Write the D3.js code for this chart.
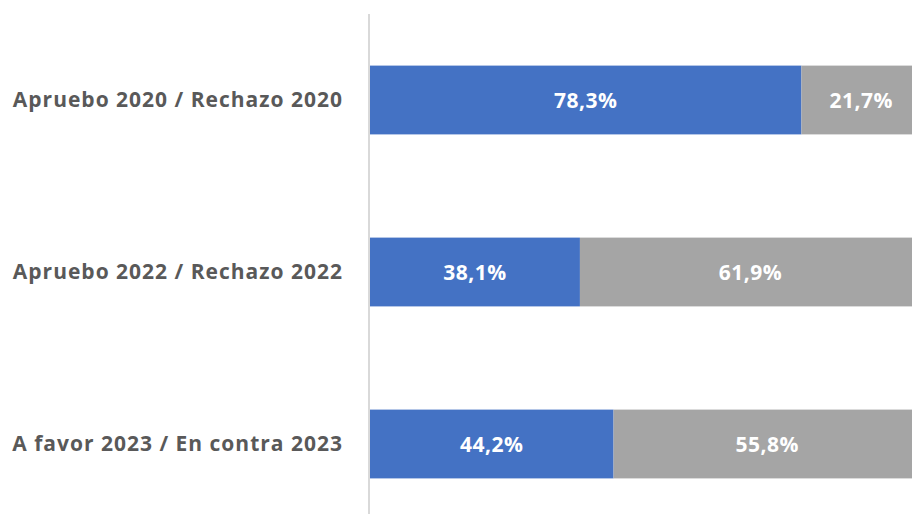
<!DOCTYPE html>
<html>
<head>
<meta charset="utf-8">
<script src="https://cdn.jsdelivr.net/npm/d3@7"></script>
<style>
  body { margin: 0; background: #fff; overflow: hidden; }
</style>
</head>
<body>
<div class="chart"></div>
<script>
// data
var categories = ["Apruebo 2020 / Rechazo 2020", "Apruebo 2022 / Rechazo 2022", "A favor 2023 / En contra 2023"];
var favor = [78.3, 38.1, 44.2];
var contra = [21.7, 61.9, 55.8];

var svgWidth = 912;
var svgHeight = 514;
var margin = { top: 14, right: 0, bottom: 0, left: 370 };
var plotWidth = 551;          // bar runs past the right edge like the original
var plotHeight = 516;

var svg = d3.select(".chart")
  .append("svg")
  .attr("width", svgWidth)
  .attr("height", svgHeight);

var chart = svg.append("g")
  .attr("transform", "translate(" + margin.left + "," + margin.top + ")");

var xScale = d3.scaleLinear().domain([0, 100]).range([0, plotWidth]);
var yScale = d3.scaleBand().domain(categories).range([0, plotHeight]).paddingInner(0.6).paddingOuter(0.3);

var locale = d3.formatLocale({ decimal: ",", thousands: ".", grouping: [3], currency: ["", ""] });
var fmt = function(v) { return locale.format(".1f")(v) + "%"; };

var rows = categories.map(function(c, i) {
  return { cat: c, parts: [
    { x0: 0, x1: favor[i], color: "#4472C4" },
    { x0: favor[i], x1: favor[i] + contra[i], color: "#A5A5A5" }
  ]};
});

var groups = chart.selectAll(".row")
  .data(rows)
  .enter()
  .append("g")
  .attr("class", "row")
  .attr("transform", function(d) { return "translate(0," + yScale(d.cat) + ")"; });

groups.selectAll("rect")
  .data(function(d) { return d.parts; })
  .enter()
  .append("rect")
  .attr("x", function(p) { return xScale(p.x0); })
  .attr("width", function(p) { return xScale(p.x1) - xScale(p.x0); })
  .attr("y", 0)
  .attr("height", yScale.bandwidth())
  .attr("fill", function(p) { return p.color; });

groups.selectAll("text.val")
  .data(function(d) { return d.parts; })
  .enter()
  .append("text")
  .attr("class", "val")
  .attr("x", function(p) { return xScale((p.x0 + p.x1) / 2); })
  .attr("y", yScale.bandwidth() / 2)
  .attr("dy", "0.36em")
  .style("text-anchor", "middle")
  .style("font-family", "'Open Sans', sans-serif")
  .style("font-weight", "bold")
  .style("font-size", "21px")
  .style("letter-spacing", "0.5px")
  .style("fill", "#fff")
  .text(function(p) { return fmt(p.x1 - p.x0); });

// left axis: just the line and category labels
var leftAxis = d3.axisLeft(yScale).tickSize(0).tickPadding(27);
var axisG = chart.append("g").call(leftAxis);
axisG.select(".domain")
  .attr("stroke", "#D9D9D9")
  .attr("stroke-width", 2)
  .attr("d", "M-1,0V" + plotHeight);
axisG.selectAll("text")
  .style("font-family", "'Open Sans', sans-serif")
  .style("font-weight", "bold")
  .style("font-size", "21px")
  .style("letter-spacing", "1px")
  .style("fill", "#595959");
</script>
</body>
</html>
